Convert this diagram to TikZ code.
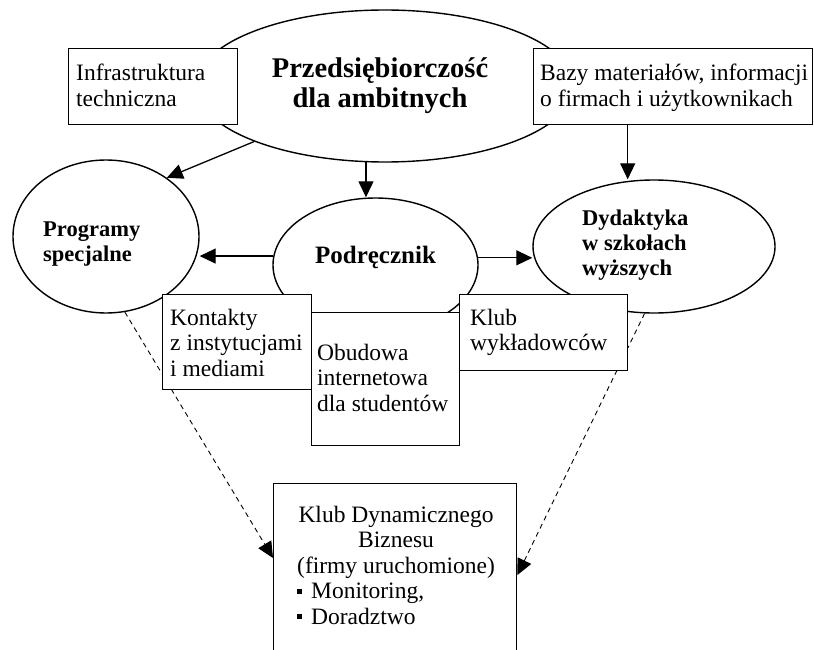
\documentclass[tikz,border=0pt]{standalone}
\usepackage{fontspec}
\setmainfont{Liberation Serif}
\usetikzlibrary{shapes.geometric,arrows.meta}
\pgfdeclarelayer{bg}
\pgfsetlayers{bg,main}
% stacked lines whose first baseline is the node baseline
\newcommand\lns[2][l]{\begin{tabular}[t]{@{}#1@{}}#2\end{tabular}}
\newcommand\bulletsq{\rule[5pt]{5pt}{5pt}\hspace{9pt}}
\begin{document}
\begin{tikzpicture}[x=1pt,y=-1pt,
  shp/.style={draw,line width=1.4pt,fill=white,inner sep=0pt},
  oval/.style={shp,ellipse},
  panel/.style={shp,rectangle,anchor=north west},
  txt/.style={inner sep=0pt,anchor=base west},
  plain/.style={font={\fontsize{23.5}{25.5}\selectfont}},
  heavy/.style={font={\bfseries\fontsize{22.5}{25}\selectfont}},
  arr/.style={line width=1.3pt,-{Triangle[length=16pt,width=15pt]}},
  darr/.style={line width=0.9pt,dash pattern=on 5pt off 4pt,-{Triangle[length=16pt,width=15pt]}}]

\useasboundingbox (0,0) rectangle (814,650);
\clip (0,0) rectangle (814,650);

% ovals
\begin{pgfonlayer}{bg}
\node[oval,minimum width=378pt,minimum height=152pt] (main) at (385,86) {};
\node[oval,minimum width=186pt,minimum height=153pt] (prog) at (106,236.5) {};
\node[oval,minimum width=205pt,minimum height=134pt] (pod) at (375.5,265) {};
\node[oval,minimum width=242pt,minimum height=133pt] (dyd) at (654,246.5) {};
\end{pgfonlayer}

% boxes
\node[panel,minimum width=169pt,minimum height=76pt] (infra) at (68,48) {};
\node[panel,minimum width=279pt,minimum height=76pt] (bazy) at (533,48) {};
\node[panel,minimum width=149pt,minimum height=95pt] (kont) at (162,294) {};
\node[panel,minimum width=148pt,minimum height=133pt] (obud) at (311,312) {};
\node[panel,minimum width=168pt,minimum height=76pt] (klub) at (459,294) {};
\node[panel,minimum width=243pt,minimum height=217pt] (kdb) at (273,483) {};

% labels
\node[txt,anchor=base,font={\bfseries\fontsize{28.5}{30}\selectfont}] (mainT) at (380,78)
  {\lns[c]{Przedsiębiorczość\\dla ambitnych}};
\node[txt,plain] (infraT) at (76,81) {\lns{Infrastruktura\\techniczna}};
\node[txt,plain] (bazyT) at (540,81) {\lns{Bazy materiałów, informacji\\o firmach i użytkownikach}};
\node[txt,heavy] (progT) at (43,236) {\lns{Programy\\specjalne}};
\node[txt,anchor=base,font={\bfseries\fontsize{25}{27}\selectfont}] (podT) at (375.5,263) {Podręcznik};
\node[txt,heavy] (dydT) at (582,225) {\lns{Dydaktyka\\w szkołach\\wyższych}};
\node[txt,plain] (kontT) at (170,325) {\lns{Kontakty\\z instytucjami\\i mediami}};
\node[txt,plain] (obudT) at (317,360) {\lns{Obudowa\\internetowa\\dla studentów}};
\node[txt,plain] (klubT) at (470,325) {\lns{Klub\\wykładowców}};
\node[txt,plain] (kdbT) at (297,522) {\lns{\multicolumn{1}{@{}c@{}}{Klub Dynamicznego}\\
  \multicolumn{1}{@{}c@{}}{Biznesu}\\
  \multicolumn{1}{@{}c@{}}{(firmy uruchomione)}\\
  \bulletsq Monitoring,\\
  \bulletsq Doradztwo}};

% connectors
\begin{pgfonlayer}{bg}
\draw[arr] (main.203) -- (prog.44);
\draw[arr] (main.256.6) -- (main.256.6 |- pod.north);
\draw[arr] (pod.175.5) -- (pod.175.5 -| prog.east);
\draw[arr] (pod.4.5) -- (pod.4.5 -| dyd.west);
\draw[arr] ([xshift=-45.5pt]bazy.south) -- ([xshift=-45.5pt]bazy.south |- dyd.north);
\draw[darr] (prog.284) -- ([yshift=-75pt]kdb.north west);
\draw[darr] (dyd.262.3) -- ([yshift=-92pt]kdb.north east);
\end{pgfonlayer}
\end{tikzpicture}
\end{document}
